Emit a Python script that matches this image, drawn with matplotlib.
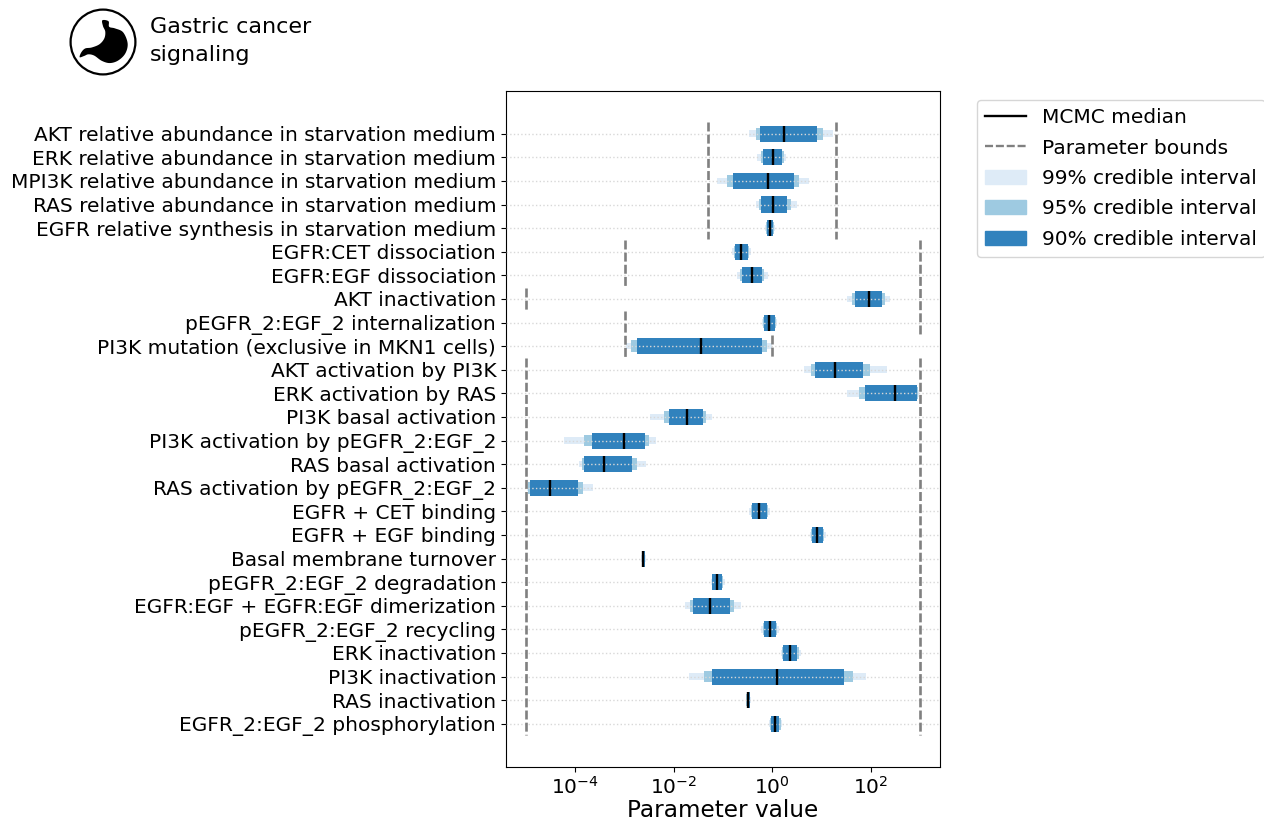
import numpy as np
import matplotlib
matplotlib.use("Agg")
import matplotlib.pyplot as plt
from matplotlib.patches import Circle, Polygon, Patch
from matplotlib.lines import Line2D

parameters = [
    "AKT relative abundance in starvation medium",
    "ERK relative abundance in starvation medium",
    "MPI3K relative abundance in starvation medium",
    "RAS relative abundance in starvation medium",
    "EGFR relative synthesis in starvation medium",
    "EGFR:CET dissociation",
    "EGFR:EGF dissociation",
    "AKT inactivation",
    "pEGFR_2:EGF_2 internalization",
    "PI3K mutation (exclusive in MKN1 cells)",
    "AKT activation by PI3K",
    "ERK activation by RAS",
    "PI3K basal activation",
    "PI3K activation by pEGFR_2:EGF_2",
    "RAS basal activation",
    "RAS activation by pEGFR_2:EGF_2",
    "EGFR + CET binding",
    "EGFR + EGF binding",
    "Basal membrane turnover",
    "pEGFR_2:EGF_2 degradation",
    "EGFR:EGF + EGFR:EGF dimerization",
    "pEGFR_2:EGF_2 recycling",
    "ERK inactivation",
    "PI3K inactivation",
    "RAS inactivation",
    "EGFR_2:EGF_2 phosphorylation",
]
# log10 of the credible interval limits
log_lo99 = [-0.473,-0.317,-1.123,-0.338,-0.141,-0.825,-0.710,1.509,-0.209,-2.976,0.644,1.517,-2.483,-4.222,-3.923,-4.980,-0.480,0.759,-2.659,-1.251,-1.773,-0.229,0.169,-1.698,-0.534,-0.060]
log_lo95 = [-0.331,-0.229,-0.927,-0.270,-0.127,-0.778,-0.656,1.618,-0.189,-2.868,0.786,1.761,-2.199,-3.823,-3.862,-4.953,-0.439,0.780,-2.652,-1.231,-1.671,-0.195,0.196,-1.386,-0.527,-0.040]
log_lo90 = [-0.250,-0.189,-0.791,-0.223,-0.114,-0.757,-0.608,1.672,-0.175,-2.747,0.860,1.882,-2.097,-3.660,-3.823,-4.926,-0.405,0.800,-2.646,-1.217,-1.617,-0.175,0.217,-1.224,-0.520,-0.026]
log_median = [0.244,0.021,-0.094,0.014,-0.047,-0.629,-0.412,1.957,-0.067,-1.448,1.280,2.498,-1.725,-3.004,-3.417,-4.507,-0.263,0.914,-2.619,-1.116,-1.258,-0.053,0.359,0.089,-0.487,0.055]
log_hi90 = [0.906,0.197,0.447,0.305,0.021,-0.493,-0.202,2.234,0.048,-0.209,1.835,2.938,-1.407,-2.578,-2.855,-3.945,-0.114,1.036,-2.585,-1.015,-0.859,0.075,0.501,1.463,-0.453,0.142]
log_hi95 = [1.035,0.231,0.542,0.373,0.035,-0.473,-0.169,2.289,0.068,-0.101,1.977,2.965,-1.346,-2.503,-2.754,-3.844,-0.080,1.057,-2.578,-0.994,-0.778,0.102,0.535,1.639,-0.446,0.169]
log_hi99 = [1.238,0.271,0.739,0.495,0.048,-0.439,-0.094,2.390,0.095,-0.013,2.329,2.986,-1.224,-2.368,-2.565,-3.648,-0.047,1.084,-2.571,-0.960,-0.642,0.136,0.583,1.902,-0.439,0.204]
lower_bounds = [0.05]*5 + [1e-3]*2 + [1e-5] + [1e-3]*2 + [1e-5]*16
upper_bounds = [20]*5 + [1e3]*4 + [1] + [1e3]*16
interval_labels = ["99% credible interval", "95% credible interval", "90% credible interval"]
interval_colors = ["#deebf7", "#9ecae1", "#3182bd"]
interval_heights = [0.28, 0.5, 0.68]
# outline of the stomach icon (icon units)
icon_x = [-0.02,0.17,0.19,0.37,0.62,0.76,0.69,0.47,0.21,-0.04,-0.27,-0.45,-0.58,-0.72,-0.67,-0.55,-0.35,-0.11,0.04,0.07,0.00]
icon_y = [0.67,0.64,0.47,0.42,0.30,-0.04,-0.35,-0.57,-0.65,-0.58,-0.42,-0.38,-0.43,-0.47,-0.32,-0.20,-0.17,-0.07,0.11,0.32,0.49]

def smooth_outline(px, py, n=8):
    """Closed Catmull-Rom curve through the outline points (icon drawing only)."""
    p = np.column_stack([px, py])
    out = []
    m = len(p)
    for i in range(m):
        p0, p1, p2, p3 = p[i-1], p[i], p[(i+1) % m], p[(i+2) % m]
        for t in np.linspace(0, 1, n, endpoint=False):
            out.append(0.5*((2*p1) + (p2-p0)*t + (2*p0-5*p1+4*p2-p3)*t**2 + (3*p1-p0-3*p2+p3)*t**3))
    return np.array(out)

W, H = 1264, 824
fig = plt.figure(figsize=(W/100, H/100), dpi=100)
ax = fig.add_axes([506/W, 1-766.7/H, 433.7/W, 675.7/H])
y = np.arange(len(parameters))
for lo, hi, col, h in zip((log_lo99, log_lo95, log_lo90), (log_hi99, log_hi95, log_hi90), interval_colors, interval_heights):
    lo10 = 10.0**np.array(lo); hi10 = 10.0**np.array(hi)
    ax.barh(y, hi10-lo10, left=lo10, height=h, color=col, zorder=2)
med = 10.0**np.array(log_median)
ax.vlines(med, y-0.34, y+0.34, color="k", lw=1.7, zorder=4)
# bounds, one dashed path per run of equal limits
for b in (lower_bounds, upper_bounds):
    start = 0
    for i in range(1, len(b)+1):
        if i == len(b) or b[i] != b[start]:
            ax.plot([b[start]]*2, [start-0.48, i-1+0.48], color="grey", lw=1.9, dashes=(3.4, 1.2), zorder=3)
            start = i
ax.set_xscale("log")
ax.set_xlim(10**-5.407, 10**3.399)
ax.set_ylim(len(parameters)-1+1.82, -1.81)
ax.set_yticks(y, parameters, fontsize=14.5)
ax.set_xticks([1e-4,1e-2,1,1e2])
ax.minorticks_off()
ax.tick_params(axis="y", pad=3.6)
ax.tick_params(axis="x", labelsize=14.5, pad=3)
ax.set_xlabel("Parameter value", fontsize=16.7, labelpad=1)
ax.grid(axis="y", ls=":", color="#d8d8d8", lw=1.0, zorder=5)
ax.set_axisbelow(False)
handles = [Line2D([],[],color="k",lw=1.7,label="MCMC median"),
           Line2D([],[],color="grey",lw=1.7,dashes=(3.4, 1.2),label="Parameter bounds")]
handles += [Patch(color=c,label=l) for c,l in zip(interval_colors, interval_labels)]
fig.legend(handles=handles, loc="upper left", bbox_to_anchor=(977/W, 1-100/H), fontsize=14.5,
           borderaxespad=0, handlelength=2.05, labelspacing=0.57)
# title block
fig.text(150/W, 1-41/H, "Gastric cancer\nsignaling", fontsize=16, va="center", ha="left", linespacing=1.45)
iax = fig.add_axes([68/W, 1-77/H, 70/W, 70/H]); iax.set_xlim(-1.08,1.08); iax.set_ylim(-1.08,1.08); iax.axis("off")
iax.add_patch(Circle((0,0),1,fc="white",ec="k",lw=1.6))
iax.add_patch(Polygon(smooth_outline(icon_x, icon_y),closed=True,fc="k",ec="none"))
fig.savefig("out.png", dpi=100)
